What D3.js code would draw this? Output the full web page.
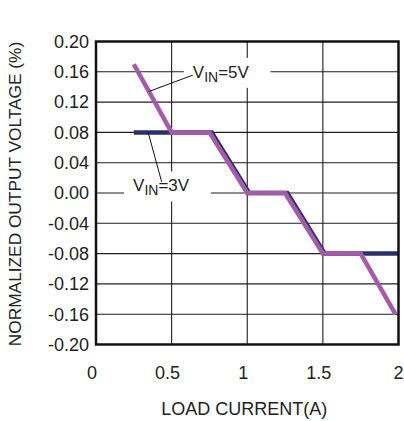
<!DOCTYPE html>
<html><head><meta charset="utf-8">
<script src="https://cdn.jsdelivr.net/npm/d3@7"></script>
<style>body{margin:0;background:#fff}svg{display:block;font-family:"Liberation Sans",Arial,sans-serif}</style>
</head><body><svg id="c" width="404" height="421"></svg>
<script>
const xTicks = [0, 0.5, 1, 1.5, 2];
const xTickLabels = ["0", "0.5", "1", "1.5", "2"];
const yTicks = [0.20, 0.16, 0.12, 0.08, 0.04, 0.00, -0.04, -0.08, -0.12, -0.16, -0.20];
const vin3X = [0.25, 0.5, 0.765, 1.012, 1.265, 1.512, 2.0];
const vin3Y = [0.08, 0.08, 0.08, 0.0, 0.0, -0.08, -0.08];
const vin5X = [0.25, 0.5, 0.75, 1.0, 1.25, 1.5, 1.75, 1.98];
const vin5Y = [0.17, 0.08, 0.08, 0.0, 0.0, -0.08, -0.08, -0.16];
const xTitle = "LOAD CURRENT(A)";
const yTitle = "NORMALIZED OUTPUT VOLTAGE (%)";

const svg = d3.select("#c");
const x = d3.scaleLinear().domain([0, 2]).range([96, 398.5]);
const y = d3.scaleLinear().domain([-0.2, 0.2]).range([344.5, 41.5]);

// grid
svg.append("g").selectAll("line").data(yTicks.slice(1, -1)).join("line")
  .attr("x1", x(0)).attr("x2", x(2)).attr("y1", d => y(d)).attr("y2", d => y(d))
  .attr("stroke", "#1e1e1e").attr("stroke-width", 1.1);
svg.append("g").selectAll("line").data(xTicks.slice(1, -1)).join("line")
  .attr("y1", y(-0.2)).attr("y2", y(0.2)).attr("x1", d => x(d)).attr("x2", d => x(d))
  .attr("stroke", "#1e1e1e").attr("stroke-width", 1.1);

// annotation labels
function label(gx, gy, sub, rest) {
  const g = svg.append("g");
  const rect = g.append("rect").attr("fill", "#fff");
  const t = g.append("text").attr("x", x(gx)).attr("y", y(gy)).attr("font-size", 17).attr("fill", "#222");
  t.append("tspan").text("V");
  t.append("tspan").attr("font-size", 14).attr("dy", 4).text(sub);
  t.append("tspan").attr("dy", -4).text(rest);
  const b = t.node().getBBox();
  rect.attr("x", b.x - 9).attr("y", b.y - 5).attr("width", b.width + 30).attr("height", b.height + 8);
}
label(0.64, 0.152, "IN", "=5V");
label(0.245, 0.002, "IN", "=3V");

// lines
const line = d3.line().x(d => x(d[0])).y(d => y(d[1]));
svg.append("path").datum(vin3X.map((v, i) => [v, vin3Y[i]])).attr("d", line)
  .attr("fill", "none").attr("stroke", "#2c2f6a").attr("stroke-width", 4.5);
svg.append("path").datum(vin5X.map((v, i) => [v, vin5Y[i]])).attr("d", line)
  .attr("fill", "none").attr("stroke", "#a55ba9").attr("stroke-width", 4.5);

// leader lines
svg.append("line").attr("x1", x(0.64)).attr("y1", y(0.1556)).attr("x2", x(0.35)).attr("y2", y(0.134))
  .attr("stroke", "#111").attr("stroke-width", 1);
svg.append("line").attr("x1", x(0.434)).attr("y1", y(0.0148)).attr("x2", x(0.345)).attr("y2", y(0.08))
  .attr("stroke", "#111").attr("stroke-width", 1);

// frame
svg.append("rect").attr("x", x(0)).attr("y", y(0.2)).attr("width", x(2) - x(0)).attr("height", y(-0.2) - y(0.2))
  .attr("fill", "none").attr("stroke", "#111").attr("stroke-width", 2.5);

// tick labels
svg.append("g").selectAll("text").data(yTicks).join("text")
  .attr("x", 89).attr("y", d => y(d)).attr("dy", "0.35em").attr("text-anchor", "end")
  .attr("font-size", 18).attr("fill", "#222").text(d => d3.format(".2f")(d).replace("\u2212", "-"));
svg.append("g").selectAll("text").data(xTicks).join("text")
  .attr("x", (d, i) => x(d) - (i === xTicks.length - 1 ? 0 : 4)).attr("y", 379).attr("text-anchor", "middle")
  .attr("font-size", 18).attr("fill", "#222").text((d, i) => xTickLabels[i]);

// titles
svg.append("text").attr("x", (x(0) + x(2)) / 2 - 3).attr("y", 415).attr("text-anchor", "middle")
  .attr("font-size", 18).attr("fill", "#222").text(xTitle);
svg.append("text").attr("transform", `translate(21,${(y(0.2) + y(-0.2)) / 2 + 1}) rotate(-90)`)
  .attr("text-anchor", "middle").attr("font-size", 17.3).attr("fill", "#222").text(yTitle);
</script></body></html>
